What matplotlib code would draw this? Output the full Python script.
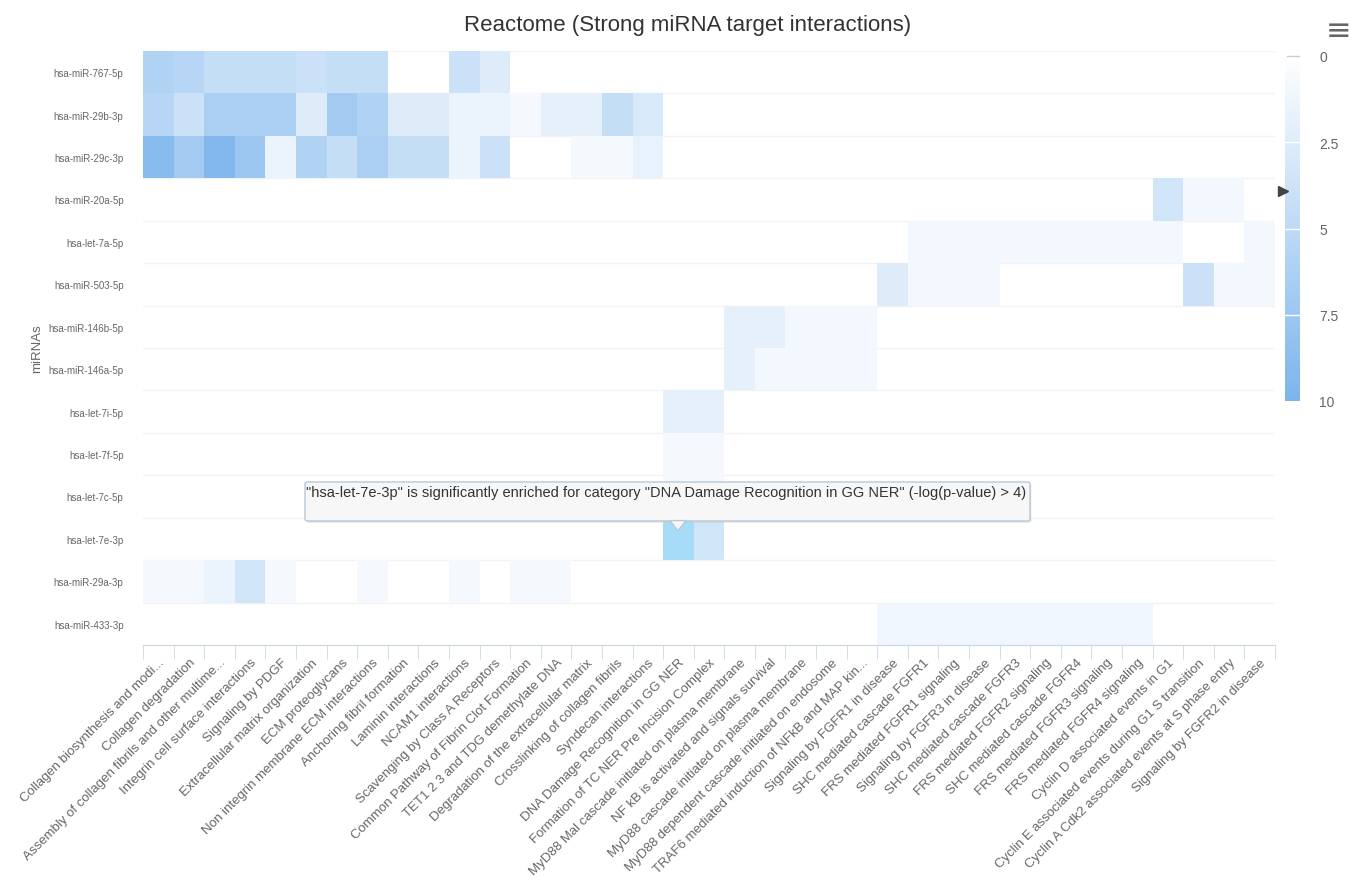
import numpy as np
import matplotlib.pyplot as plt
from matplotlib.colors import LinearSegmentedColormap
from matplotlib.patches import FancyBboxPatch, Polygon, Rectangle

plt.rcParams['font.family'] = ['Liberation Sans', 'DejaVu Sans']

pathways = ['Collagen biosynthesis and modi...', 'Collagen degradation',
            'Assembly of collagen fibrils and other multime...', 'Integrin cell surface interactions',
            'Signaling by PDGF', 'Extracellular matrix organization', 'ECM proteoglycans',
            'Non integrin membrane ECM interactions', 'Anchoring fibril formation',
            'Laminin interactions', 'NCAM1 interactions', 'Scavenging by Class A Receptors',
            'Common Pathway of Fibrin Clot Formation', 'TET1 2 3 and TDG demethylate DNA',
            'Degradation of the extracellular matrix', 'Crosslinking of collagen fibrils',
            'Syndecan interactions', 'DNA Damage Recognition in GG NER',
            'Formation of TC NER Pre Incision Complex', 'MyD88 Mal cascade initiated on plasma membrane',
            'NF kB is activated and signals survival', 'MyD88 cascade initiated on plasma membrane',
            'MyD88 dependent cascade initiated on endosome', 'TRAF6 mediated induction of NFkB and MAP kin...',
            'Signaling by FGFR1 in disease', 'SHC mediated cascade FGFR1', 'FRS mediated FGFR1 signaling',
            'Signaling by FGFR3 in disease', 'SHC mediated cascade FGFR3', 'FRS mediated FGFR2 signaling',
            'SHC mediated cascade FGFR4', 'FRS mediated FGFR3 signaling', 'FRS mediated FGFR4 signaling',
            'Cyclin D associated events in G1', 'Cyclin E associated events during G1 S transition',
            'Cyclin A Cdk2 associated events at S phase entry', 'Signaling by FGFR2 in disease']

mirnas = ['hsa-miR-767-5p', 'hsa-miR-29b-3p', 'hsa-miR-29c-3p', 'hsa-miR-20a-5p', 'hsa-let-7a-5p',
          'hsa-miR-503-5p', 'hsa-miR-146b-5p', 'hsa-miR-146a-5p', 'hsa-let-7i-5p', 'hsa-let-7f-5p',
          'hsa-let-7c-5p', 'hsa-let-7e-3p', 'hsa-miR-29a-3p', 'hsa-miR-433-3p']

# -log(p-value) per pathway (0 = no significant hit)
mir767_5p = [6, 5.5, 4.5, 4.5, 4.5, 4, 4.5, 4.5, 0, 0, 4, 2.5] + [0] * 25
mir29b_3p = [5.5, 4, 6.5, 6.5, 6.5, 2.5, 7, 6, 2.5, 2.5, 1.5, 1.5, 0.8, 2, 2, 4.5, 3] + [0] * 20
mir29c_3p = [9, 7, 9.5, 7.5, 1.5, 6, 4.5, 6.5, 4.5, 4.5, 1.5, 4, 0, 0, 0.8, 0.8, 1.8] + [0] * 20
mir20a_5p = [0] * 33 + [3.5, 1, 1, 0]
let7a_5p = [0] * 25 + [1] * 9 + [0, 0, 1]
mir503_5p = [0] * 24 + [2.5, 1, 1, 1, 0, 0, 0, 0, 0, 0, 4, 1, 1]
mir146b_5p = [0] * 19 + [2, 2, 1, 1, 1] + [0] * 13
mir146a_5p = [0] * 19 + [2, 1, 1, 1, 1] + [0] * 13
let7i_5p = [0] * 17 + [2, 2] + [0] * 18
let7f_5p = [0] * 17 + [0.8, 0.8] + [0] * 18
let7c_5p = [0] * 17 + [0.8, 0.8] + [0] * 18
let7e_3p = [0] * 17 + [3.9, 3.5] + [0] * 18
mir29a_3p = [0.8, 0.8, 1.5, 3.5, 0.8, 0, 0, 0.8, 0, 0, 0.8, 0, 0.8, 0.8] + [0] * 23
mir433_3p = [0] * 24 + [1.2] * 9 + [0] * 4

scores = np.array([mir767_5p, mir29b_3p, mir29c_3p, mir20a_5p, let7a_5p, mir503_5p, mir146b_5p,
                   mir146a_5p, let7i_5p, let7f_5p, let7c_5p, let7e_3p, mir29a_3p, mir433_3p])

# hovered point (row, col)
hover = (11, 17)

cmap = LinearSegmentedColormap.from_list('hc', ['#ffffff', '#7cb5ec'])

fig = plt.figure(figsize=(13.53, 8.87), dpi=100)
ax = fig.add_axes([143 / 1353, 1 - 646 / 887, 1132 / 1353, 594 / 887])

nr, nc = scores.shape
for r in range(nr + 1):
    ax.axhline(r - 0.5, color='#f3f3f3', lw=1, zorder=0)

masked = np.ma.masked_equal(scores, 0)
mesh = ax.pcolormesh(np.arange(nc + 1) - 0.5, np.arange(nr + 1) - 0.5, masked,
                     cmap=cmap, vmin=0, vmax=10, zorder=1)
hr, hc = hover
ax.add_patch(Rectangle((hc - 0.5, hr - 0.5), 1, 1, facecolor='#a6dcf8', edgecolor='none', zorder=2))

ax.set_xlim(-0.5, nc - 0.5)
ax.set_ylim(nr - 0.5, -0.5)
for s in ['top', 'right', 'left']:
    ax.spines[s].set_visible(False)
ax.spines['bottom'].set_color('#ccd6eb')

ax.set_xticks(np.arange(nc))
ax.set_xticklabels(pathways, rotation=45, ha='right', rotation_mode='anchor',
                   fontsize=9.5, color='#666666')
ax.set_xticks(np.arange(nc + 1) - 0.5, minor=True)
ax.tick_params(axis='x', which='major', length=0, pad=8)
ax.tick_params(axis='x', which='minor', length=10, color='#ccd6eb')
ax.set_yticks(np.arange(nr))
ax.set_yticklabels(mirnas, fontsize=7, color='#666666')
ax.tick_params(axis='y', length=0, pad=14)
ax.set_ylabel('miRNAs', fontsize=9.5, color='#666666', labelpad=4)

fig.text(0.508, 0.971, 'Reactome (Strong miRNA target interactions)', ha='center', va='center',
         fontsize=16, color='#333333')
fig.text(0.999, 0.965, '\u2261', ha='right', va='center', fontsize=22, color='#666666',
         family='DejaVu Sans')

# colour axis
cax = fig.add_axes([1285 / 1353, 1 - 402 / 887, 15 / 1353, 345 / 887])
grad = np.linspace(0, 10, 256).reshape(-1, 1)
cax.imshow(grad, cmap=cmap, aspect='auto', extent=[0, 1, 10, 0], vmin=0, vmax=10)
cax.set_xlim(0, 1)
cax.set_ylim(10, 0)
cax.set_xticks([])
cax.set_yticks([0, 2.5, 5, 7.5, 10])
cax.set_yticklabels(['0', '2.5', '5', '7.5', '10'], fontsize=10, color='#666666')
cax.yaxis.tick_right()
cax.tick_params(axis='y', length=0, pad=14)
for s in cax.spines.values():
    s.set_visible(False)
cax.plot([0.1, 0.9], [0, 0], color='#cccccc', lw=1, clip_on=False)
for t in [2.5, 5, 7.5]:
    cax.axhline(t, color='white', lw=1)
cax.plot([-0.15], [scores[hr, hc]], marker='>', color='#444444', markersize=7, clip_on=False)

# tooltip
x0, y0, x1, y1 = 305 / 1353, 1 - 522 / 887, 1030 / 1353, 1 - 483 / 887
shadow = FancyBboxPatch((x0 + 0.001, y0 - 0.002), x1 - x0, y1 - y0, boxstyle='round,pad=0,rounding_size=0.002',
                        transform=fig.transFigure, facecolor='#cccccc', edgecolor='none', alpha=0.5)
box = FancyBboxPatch((x0, y0), x1 - x0, y1 - y0, boxstyle='round,pad=0,rounding_size=0.002',
                     transform=fig.transFigure, facecolor='#f7f7f7', edgecolor='#b8c8d8', lw=1)
fig.patches.extend([shadow, box])
px = 678 / 1353
tri = Polygon([[px - 0.006, y0 + 0.0005], [px + 0.006, y0 + 0.0005], [px, y0 - 0.011]], closed=True,
              transform=fig.transFigure, facecolor='#f7f7f7', edgecolor='#b8c8d8', lw=1)
fig.patches.append(tri)
fig.text(x0 + 0.001, 1 - 493 / 887,
         '"%s" is significantly enriched for category "%s" (-log(p-value) > 4)' % (mirnas[hr], pathways[hc]),
         ha='left', va='center', fontsize=10.5, color='#333333')

fig.savefig('out.png', dpi=100)
